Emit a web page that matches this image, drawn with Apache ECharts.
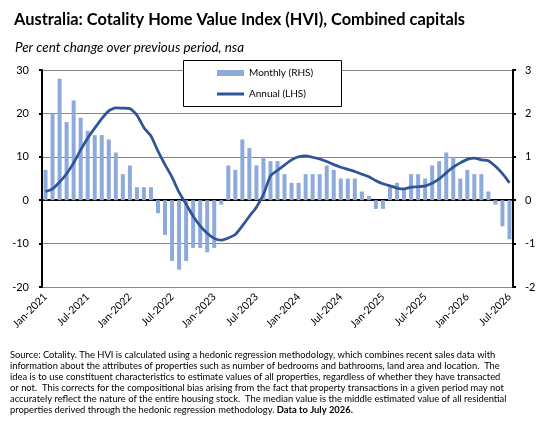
<!DOCTYPE html>
<html>
<head>
<meta charset="utf-8">
<script src="https://cdn.jsdelivr.net/npm/echarts@6/dist/echarts.min.js"></script>
<style>
  html, body { margin: 0; padding: 0; background: #fff; }
  #chart { width: 551px; height: 431px; }
</style>
</head>
<body>
<div id="chart"></div>
<script>
// month labels Jan-2021 .. Jul-2026
var monthNames = ['Jan', 'Feb', 'Mar', 'Apr', 'May', 'Jun', 'Jul', 'Aug', 'Sep', 'Oct', 'Nov', 'Dec'];
var categories = [];
for (var y = 2021; y <= 2026; y++) {
    for (var m = 0; m < 12; m++) {
        if (y === 2026 && m > 6) break;
        categories.push(monthNames[m] + '-' + y);
    }
}

// monthly % change (RHS)
var monthly = [
    0.7, 2.0, 2.8, 1.8, 2.3, 1.9, 1.6, 1.5, 1.5, 1.4, 1.1, 0.6,
    0.8, 0.3, 0.3, 0.3, -0.3, -0.8, -1.4, -1.6, -1.4, -1.1, -1.1, -1.2,
    -1.1, -0.1, 0.8, 0.7, 1.4, 1.2, 0.8, 1.0, 0.9, 0.9, 0.6, 0.4,
    0.4, 0.6, 0.6, 0.6, 0.8, 0.7, 0.5, 0.5, 0.5, 0.2, 0.1, -0.2,
    -0.2, 0.3, 0.4, 0.25, 0.6, 0.6, 0.5, 0.8, 0.9, 1.1, 1.0, 0.5,
    0.7, 0.6, 0.6, 0.2, -0.1, -0.6, -0.9
];

// annual % change (LHS)
var annual = [
    2.0, 2.6, 4.2, 6.1, 8.6, 11.6, 14.3, 16.6, 18.8, 20.6, 21.3, 21.2,
    21.1, 19.6, 16.7, 14.8, 11.3, 8.2, 5.3, 1.8, -0.9, -3.7, -5.9, -7.6,
    -8.8, -9.2, -8.7, -7.9, -5.9, -3.7, -1.6, 1.3, 5.6, 6.9, 8.1, 9.3,
    10.0, 10.2, 9.9, 9.5, 8.9, 8.2, 7.6, 7.1, 6.6, 6.0, 5.4, 4.5,
    3.8, 3.3, 2.8, 2.6, 3.0, 3.1, 3.3, 3.9, 4.9, 6.3, 7.6, 8.6,
    9.4, 9.7, 9.3, 9.1, 7.8, 6.1, 4.0
];

var titleText = 'Australia: Cotality Home Value Index (HVI), Combined capitals';
var subtitleText = 'Per cent change over previous period, nsa';
var sourceLines = [
    'Source: Cotality. The HVI is calculated using a hedonic regression methodology, which combines recent sales data with',
    'information about the attributes of properties such as number of bedrooms and bathrooms, land area and location.  The',
    'idea is to use constituent characteristics to estimate values of all properties, regardless of whether they have transacted',
    'or not.  This corrects for the compositional bias arising from the fact that property transactions in a given period may not',
    'accurately reflect the nature of the entire housing stock.  The median value is the middle estimated value of all residential',
    'properties derived through the hedonic regression methodology. {b|Data to July 2026.}'
];

var FONT = 'Lato, "Open Sans", sans-serif';
var BAR_COLOR = '#8eaadb';
var LINE_COLOR = '#2f5597';

var chart = echarts.init(document.getElementById('chart'), null, { renderer: 'canvas' });

var option = {
    backgroundColor: '#fff',
    animation: false,
    textStyle: { fontFamily: FONT },
    title: [{
        text: titleText,
        left: 9,
        top: 7,
        textStyle: { fontFamily: FONT, fontSize: 16.4, fontWeight: 'bold', color: '#000' }
    }, {
        text: subtitleText,
        left: 10,
        top: 36,
        textStyle: { fontFamily: FONT, fontSize: 13.4, fontStyle: 'italic', fontWeight: 'normal', color: '#000' }
    }],
    grid: { left: 42, right: 38, top: 70, bottom: 144, containLabel: false },
    legend: {
        orient: 'vertical',
        left: 212,
        top: 63,
        itemWidth: 27,
        itemHeight: 6,
        itemGap: 11,
        textStyle: { fontFamily: FONT, fontSize: 10, color: '#000' },
        data: [
            { name: 'Monthly (RHS)', icon: 'rect' },
            { name: 'Annual (LHS)', icon: 'path://M0,0H27V3H0Z' }
        ]
    },
    xAxis: [{
        type: 'category',
        data: categories,
        axisLine: { onZero: true, lineStyle: { color: '#000', width: 2 } },
        axisTick: { interval: 5, length: 4, lineStyle: { color: '#000', width: 2 } },
        axisLabel: { show: false },
        splitLine: { show: false }
    }, {
        type: 'category',
        data: categories,
        position: 'bottom',
        axisLine: { show: false, onZero: false },
        axisTick: { show: false },
        axisLabel: {
            interval: 5,
            rotate: 45,
            margin: 8,
            fontFamily: FONT,
            fontSize: 10.5,
            color: '#000'
        }
    }],
    yAxis: [{
        type: 'value',
        min: -20,
        max: 30,
        interval: 10,
        axisLine: { show: true, lineStyle: { color: '#000', width: 2 } },
        axisTick: { show: true, length: 3, lineStyle: { color: '#000', width: 2 } },
        axisLabel: { margin: 13, fontFamily: FONT, fontSize: 11, color: '#000' },
        splitLine: { lineStyle: { color: '#868686', width: 1 } }
    }, {
        type: 'value',
        min: -2,
        max: 3,
        interval: 1,
        position: 'right',
        axisLine: { show: true, lineStyle: { color: '#000', width: 2 } },
        axisTick: { show: true, length: 3, lineStyle: { color: '#000', width: 2 } },
        axisLabel: { margin: 12, fontFamily: FONT, fontSize: 11, color: '#000' },
        splitLine: { show: false }
    }],
    graphic: [{
        type: 'rect',
        left: 183,
        top: 60,
        z: 3,
        shape: { width: 158, height: 46 },
        style: { fill: '#fff', stroke: '#000', lineWidth: 1 }
    }, {
        type: 'text',
        left: 10,
        top: 349,
        style: {
            text: sourceLines.join('\n'),
            fontFamily: FONT,
            fontSize: 9.4,
            lineHeight: 11.1,
            fill: '#000',
            rich: {
                b: { fontFamily: FONT, fontSize: 9.4, fontWeight: 'bold', fill: '#000', lineHeight: 11.1 }
            }
        }
    }],
    series: [{
        name: 'Monthly (RHS)',
        type: 'bar',
        xAxisIndex: 0,
        yAxisIndex: 1,
        barWidth: 4,
        itemStyle: { color: BAR_COLOR },
        data: monthly
    }, {
        name: 'Annual (LHS)',
        type: 'line',
        xAxisIndex: 0,
        yAxisIndex: 0,
        symbol: 'none',
        smooth: 0.2,
        z: 3,
        lineStyle: { color: LINE_COLOR, width: 2.75 },
        itemStyle: { color: LINE_COLOR },
        data: annual
    }]
};

chart.setOption(option);
</script>
</body>
</html>
